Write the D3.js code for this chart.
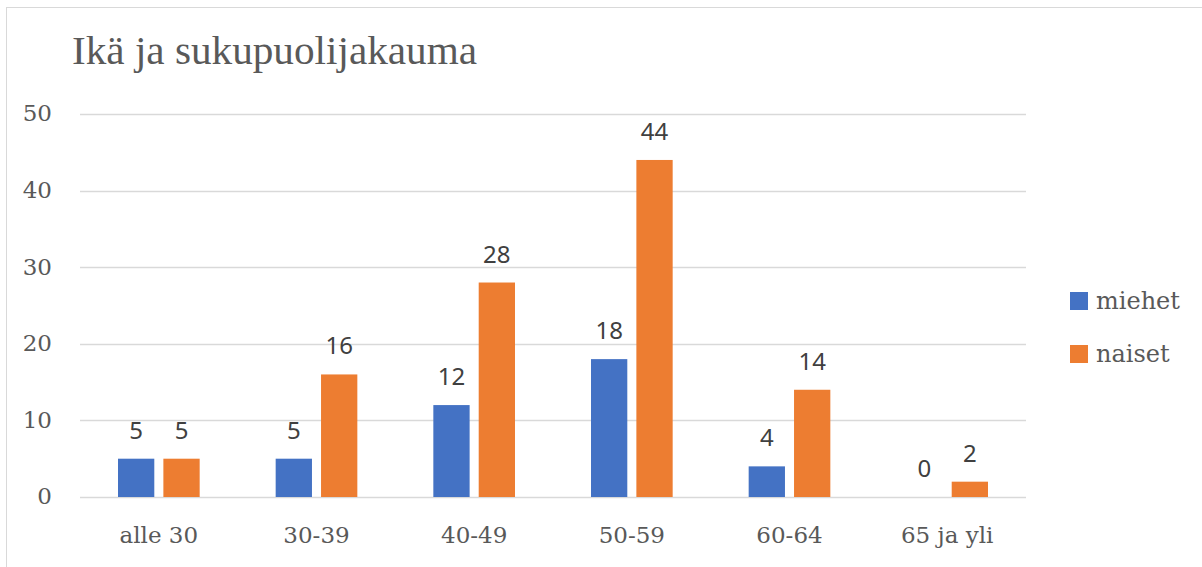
<!DOCTYPE html>
<html>
<head>
<meta charset="utf-8">
<script src="https://cdn.jsdelivr.net/npm/d3@7"></script>
<style>
  body { margin: 0; background: #fff; }
  svg { display: block; }
</style>
</head>
<body>
<div id="chart"></div>
<script>
  var categories = ['alle 30', '30-39', '40-49', '50-59', '60-64', '65 ja yli'];
  var seriesNames = ['miehet', 'naiset'];
  var miehet = [5, 5, 12, 18, 4, 0];
  var naiset = [5, 16, 28, 44, 14, 2];
  var yTicks = [0, 10, 20, 30, 40, 50];
  var colors = ['#4472C4', '#ED7D31'];

  var width = 1202, height = 567;
  var serif = '"DejaVu Serif", "Liberation Serif", serif';
  var titleFont = '"Liberation Serif", "DejaVu Serif", serif';
  var sans = '"Noto Sans", "Open Sans", sans-serif';

  var svg = d3.select('#chart').append('svg')
    .attr('width', width)
    .attr('height', height);

  // chart frame
  svg.append('rect')
    .attr('x', 6.5).attr('y', 7.5)
    .attr('width', width + 10).attr('height', height + 10)
    .attr('fill', '#fff')
    .attr('stroke', '#d9d9d9');

  svg.append('text')
    .attr('x', 72).attr('y', 64)
    .attr('fill', '#595959')
    .style('font-family', titleFont)
    .style('font-size', '39px')
    .attr('textLength', 405)
    .attr('lengthAdjust', 'spacingAndGlyphs')
    .text('Ikä ja sukupuolijakauma');

  var plot = {left: 80, right: 1026, top: 114, bottom: 497};

  var x = d3.scaleBand()
    .domain(categories)
    .range([plot.left, plot.right]);

  var x1 = d3.scaleBand()
    .domain(seriesNames)
    .range([38, x.bandwidth() - 38])
    .paddingInner(0.2);

  var y = d3.scaleLinear()
    .domain([0, 50])
    .range([plot.bottom, plot.top]);

  // gridlines
  svg.append('g')
    .selectAll('line')
    .data(yTicks)
    .enter()
    .append('line')
    .attr('x1', plot.left).attr('x2', plot.right)
    .attr('y1', function (d) { return Math.round(y(d)) + 0.5; })
    .attr('y2', function (d) { return Math.round(y(d)) + 0.5; })
    .attr('stroke', '#d9d9d9')
    .attr('stroke-width', 1.5);

  // y axis labels
  var yAxis = svg.append('g')
    .attr('transform', 'translate(52,0)')
    .call(d3.axisLeft(y).tickValues(yTicks).tickSize(0).tickPadding(0));
  yAxis.select('.domain').remove();
  yAxis.selectAll('text')
    .attr('fill', '#595959')
    .attr('dy', '0.3em')
    .style('font-family', serif)
    .style('font-size', '23px');

  // x axis labels
  var xAxis = svg.append('g')
    .attr('transform', 'translate(0,' + plot.bottom + ')')
    .call(d3.axisBottom(x).tickSize(0).tickPadding(30));
  xAxis.select('.domain').remove();
  xAxis.selectAll('text')
    .attr('fill', '#595959')
    .style('font-family', serif)
    .style('font-size', '23px');

  var rows = categories.map(function (c, i) {
    return {category: c, values: [miehet[i], naiset[i]]};
  });

  var group = svg.append('g')
    .selectAll('.group')
    .data(rows)
    .enter()
    .append('g')
    .attr('transform', function (d) { return 'translate(' + x(d.category) + ',0)'; });

  var bar = group.selectAll('.bar')
    .data(function (d) {
      return d.values.map(function (v, i) { return {name: seriesNames[i], value: v, i: i}; });
    })
    .enter()
    .append('g');

  bar.append('rect')
    .attr('x', function (d) { return x1(d.name); })
    .attr('width', x1.bandwidth())
    .attr('y', function (d) { return y(d.value); })
    .attr('height', function (d) { return y(0) - y(d.value); })
    .attr('fill', function (d) { return colors[d.i]; });

  bar.append('text')
    .attr('x', function (d) { return x1(d.name) + x1.bandwidth() / 2; })
    .attr('y', function (d) { return y(d.value) - 20; })
    .attr('text-anchor', 'middle')
    .attr('fill', '#404040')
    .style('font-family', sans)
    .style('font-size', '24px')
    .text(function (d) { return d.value; });

  // legend
  var legend = svg.append('g')
    .selectAll('.legend')
    .data(seriesNames)
    .enter()
    .append('g')
    .attr('transform', function (d, i) { return 'translate(1070,' + (292 + i * 53) + ')'; });

  legend.append('rect')
    .attr('width', 18).attr('height', 18)
    .attr('fill', function (d, i) { return colors[i]; });

  legend.append('text')
    .attr('x', 26).attr('y', 17)
    .attr('fill', '#595959')
    .style('font-family', serif)
    .style('font-size', '24px')
    .text(function (d) { return d; });
</script>
</body>
</html>
